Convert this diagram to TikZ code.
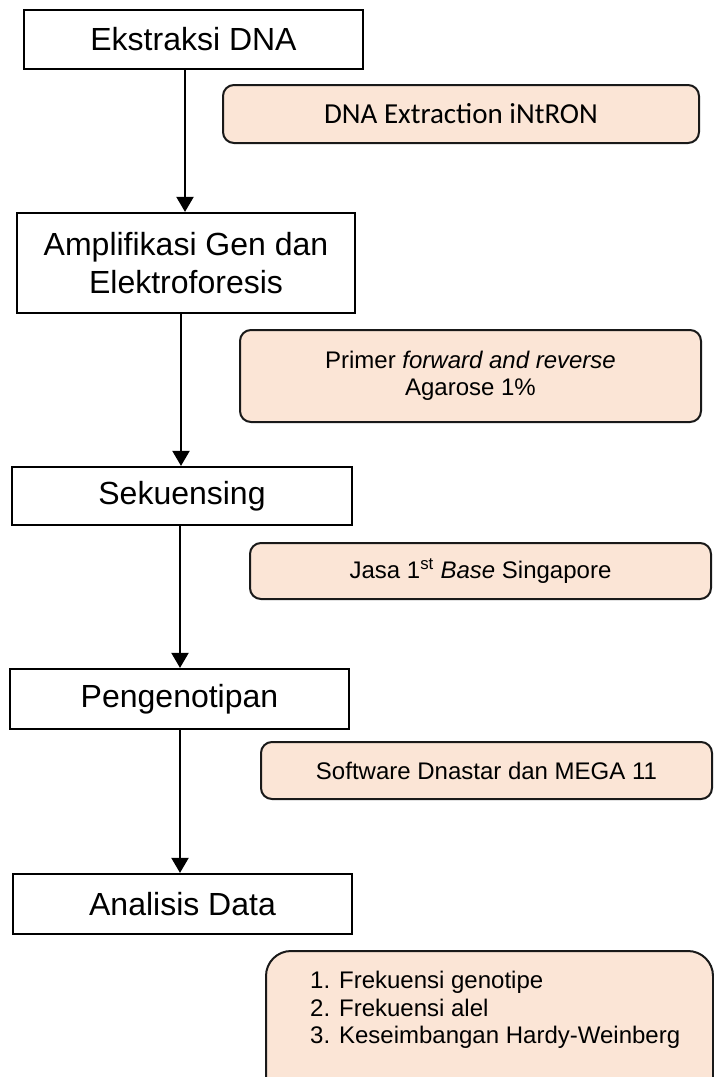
\documentclass[tikz,border=0pt]{standalone}
\usepackage{fontspec}
\setmainfont{Liberation Sans}
\newfontfamily\calibri{Carlito}
\usetikzlibrary{arrows.meta,calc}
\definecolor{peach}{HTML}{FBE5D6}
\tikzset{
  mainbox/.style={draw=black, line width=2.2pt, fill=white, inner sep=0pt, align=center,
    font=\fontsize{32}{38}\selectfont},
  obox/.style={draw=black!90, line width=2pt, fill=peach, rounded corners=11pt, inner sep=0pt, align=center,
    font=\fontsize{24}{27}\selectfont},
  arr/.style={line width=2pt, -{Triangle[length=15pt,width=17pt]}}
}
\begin{document}
\begin{tikzpicture}[x=1pt,y=-1pt]
\fill[white] (0,0) rectangle (713,1077);
\useasboundingbox (0,0) rectangle (713,1077);
% main boxes
\node[mainbox, minimum width=339pt, minimum height=59pt] (b1) at (193.5,39.5) {Ekstraksi DNA};
\node[mainbox, minimum width=338pt, minimum height=100pt] (b2) at (186,263) {Amplifikasi Gen dan\\Elektroforesis};
\node[mainbox, minimum width=340pt, minimum height=58pt] (b3) at (182,496) {Sekuensing};
\node[mainbox, minimum width=339pt, minimum height=60pt] (b4) at (179.5,699) {Pengenotipan};
\node[mainbox, minimum width=339pt, minimum height=60pt] (b5) at (182.5,904) {Analisis Data};
% orange boxes
\node[obox, minimum width=476pt, minimum height=58pt, font=\calibri\fontsize{29}{33}\selectfont] (o1) at (461,114) {DNA Extraction iNtRON};
\node[obox, minimum width=461pt, minimum height=92pt] (o2) at (470.5,376) {Primer \textit{forward and reverse}\\Agarose 1\%};
\node[obox, minimum width=461pt, minimum height=56pt] (o3) at (480.5,571) {Jasa 1\textsuperscript{st} \textit{Base} Singapore};
\node[obox, minimum width=451pt, minimum height=57pt] (o4) at (486.5,770.5) {Software Dnastar dan MEGA 11};
\node[obox, rounded corners=25pt, minimum width=447pt, minimum height=170pt, anchor=north west] (o5) at (265,950) {};
\node[anchor=west, align=left, inner sep=0pt, font=\fontsize{24}{27.5}\selectfont] (l5) at (310,1010)
  {1. Frekuensi genotipe\\2. Frekuensi alel\\3. Keseimbangan Hardy-Weinberg};
% arrows
\draw[arr] ([xshift=-8.5pt]b1.south) -- ([xshift=-8.5pt]b1.south |- b2.north);
\draw[arr] ([xshift=-5pt]b2.south) -- ([xshift=-5pt]b2.south |- b3.north);
\draw[arr] ([xshift=-2pt]b3.south) -- ([xshift=-2pt]b3.south |- b4.north);
\draw[arr] ([xshift=0.5pt]b4.south) -- ([xshift=0.5pt]b4.south |- b5.north);
\end{tikzpicture}
\end{document}
